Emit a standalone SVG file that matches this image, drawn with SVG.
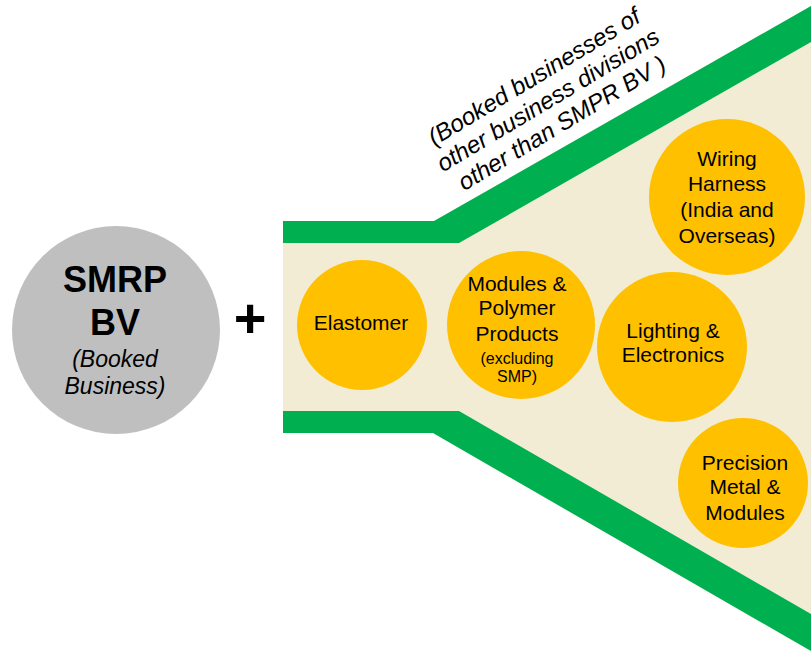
<svg xmlns="http://www.w3.org/2000/svg" width="811" height="653" viewBox="0 0 811 653">
<style>
.t{font-family:"Liberation Sans",Arial,sans-serif;fill:#000;text-anchor:middle}
.c{font-size:21px}
.s{font-size:16px}
.orange{fill:#FFC000}
.band{fill:#00B050}
</style>
<rect width="811" height="653" fill="#FFFFFF"/>
<g id="funnel">
<polygon points="283,221 434,221 811,6 811,651 433,433 283,433" fill="#F2ECD4"/>
<polygon class="band" points="283,221 434,221 811,6 811,42 459,243 283,243"/>
<polygon class="band" points="283,411 459,411 811,614 811,651 433,433 283,433"/>
</g>
<g id="note" transform="translate(548,100) rotate(-31)">
<text class="t" font-size="24" font-style="italic" x="0" y="-19">(Booked businesses of</text>
<text class="t" font-size="24" font-style="italic" x="0" y="8">other business divisions</text>
<text class="t" font-size="24" font-style="italic" x="0" y="35">other than SMPR BV )</text>
</g>
<g id="smrp">
<circle cx="116" cy="330" r="104" fill="#BFBFBF"/>
<text class="t" font-size="36" font-weight="bold" x="115" y="292">SMRP</text>
<text class="t" font-size="36" font-weight="bold" x="115" y="335">BV</text>
<text class="t" font-size="23" font-style="italic" x="115" y="367">(Booked</text>
<text class="t" font-size="23" font-style="italic" x="115" y="394">Business)</text>
</g>
<g id="plus">
<text class="t" font-size="56" font-weight="bold" x="250" y="337">+</text>
</g>
<g id="elastomer">
<circle class="orange" cx="362" cy="325" r="65"/>
<text class="t c" x="361" y="330">Elastomer</text>
</g>
<g id="modules">
<circle class="orange" cx="521" cy="325" r="74"/>
<text class="t c" x="517" y="291">Modules &amp;</text>
<text class="t c" x="517" y="315">Polymer</text>
<text class="t c" x="517" y="341">Products</text>
<text class="t s" x="517" y="364">(excluding</text>
<text class="t s" x="517" y="382">SMP)</text>
</g>
<g id="lighting">
<circle class="orange" cx="672" cy="347" r="75"/>
<text class="t c" x="673" y="338">Lighting &amp;</text>
<text class="t c" x="673" y="362">Electronics</text>
</g>
<g id="wiring">
<circle class="orange" cx="727" cy="197" r="78"/>
<text class="t c" x="727" y="166">Wiring</text>
<text class="t c" x="727" y="191">Harness</text>
<text class="t c" x="727" y="217">(India and</text>
<text class="t c" x="727" y="243">Overseas)</text>
</g>
<g id="precision">
<circle class="orange" cx="743" cy="483" r="65"/>
<text class="t c" x="745" y="470">Precision</text>
<text class="t c" x="745" y="494">Metal &amp;</text>
<text class="t c" x="745" y="520">Modules</text>
</g>
<g id="connectors"></g>
</svg>
